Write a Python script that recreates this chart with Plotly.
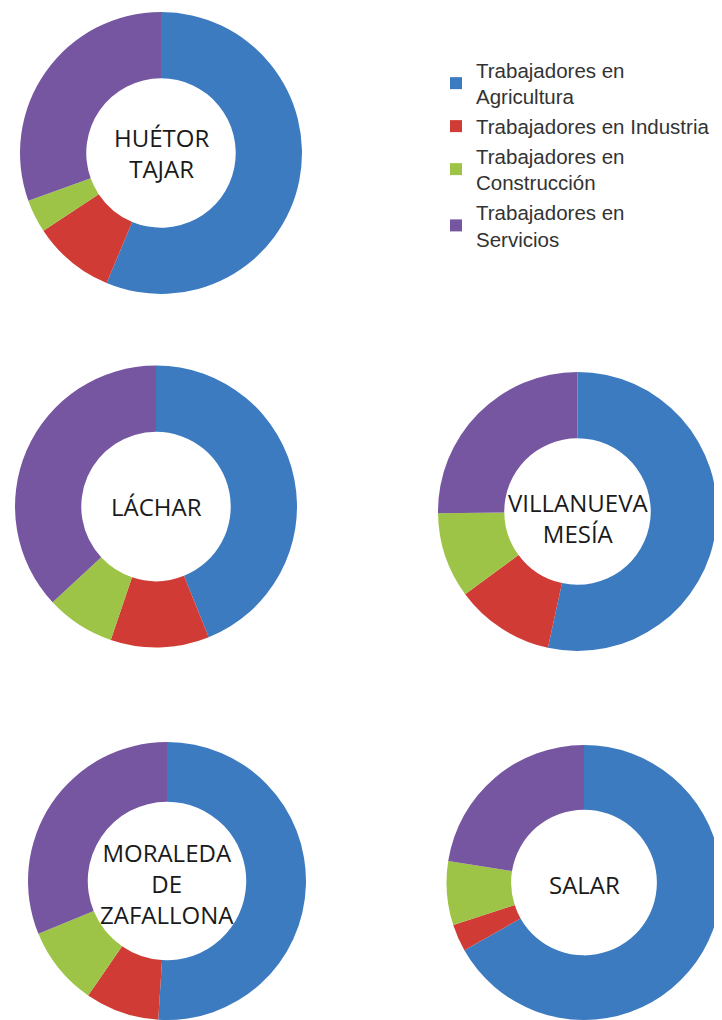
import plotly.graph_objects as go

categories = ["Trabajadores en<br>Agricultura", "Trabajadores en Industria",
              "Trabajadores en<br>Construcción", "Trabajadores en<br>Servicios"]
colors = ["#3d7bc0", "#d03c35", "#9dc446", "#7656a0"]

municipios = ["HUÉTOR<br>TAJAR", "LÁCHAR", "VILLANUEVA<br>MESÍA", "MORALEDA<br>DE<br>ZAFALLONA", "SALAR"]
huetor_tajar = [56.3, 9.4, 3.8, 30.5]
lachar = [43.9, 11.3, 7.9, 36.9]
villanueva_mesia = [53.4, 11.5, 9.9, 25.2]
moraleda = [51.0, 8.6, 9.2, 31.2]
salar = [66.8, 3.2, 7.5, 22.5]
series = [huetor_tajar, lachar, villanueva_mesia, moraleda, salar]

OFF = 8  # default page margin of the html body
W, H = 722 - OFF, 1020 - OFF
# page-pixel boxes (left, top, right, bottom) for each donut
boxes = [(20, 11, 302, 295), (15, 365, 297, 648), (438, 371, 717, 652),
         (28, 742, 306, 1020), (446, 745, 722, 1020)]
holes = [0.53, 0.53, 0.525, 0.57, 0.53]
label_offsets = [0, 0, 6, 2, 2]
font_sizes = [24, 24, 24, 24, 24]


def px(x):
    return (x - OFF) / W


def py(y):
    return 1 - (y - OFF) / H


fig = go.Figure()
for i, (name, vals) in enumerate(zip(municipios, series)):
    l, t, r, b = boxes[i]
    fig.add_trace(go.Pie(
        labels=categories, values=vals, sort=False, direction="clockwise", rotation=0,
        hole=holes[i], textinfo="none", hoverinfo="label+percent",
        marker=dict(colors=colors, line=dict(width=0)),
        domain=dict(x=[max(0, px(l)), min(1, px(r))], y=[max(0, py(b)), min(1, py(t))]),
        showlegend=(i == 0), name=name.replace("<br>", " "),
    ))
    cx = (l + r) / 2
    cy = (t + b) / 2 + label_offsets[i]
    fig.add_annotation(x=px(cx), y=py(cy), xref="paper", yref="paper",
                       text=name, showarrow=False,
                       font=dict(family="Open Sans", size=font_sizes[i], color="#1a1a1a"),
                       xanchor="center", yanchor="middle")

fig.update_layout(
    width=W, height=H, margin=dict(l=0, r=0, t=0, b=0),
    paper_bgcolor="white", plot_bgcolor="white",
    legend=dict(x=px(436), y=py(50), xanchor="left", yanchor="top",
                font=dict(family="Liberation Sans", size=20.5, color="#333333"),
                tracegroupgap=0, bgcolor="rgba(0,0,0,0)"),
)
fig.write_html("out.html")
